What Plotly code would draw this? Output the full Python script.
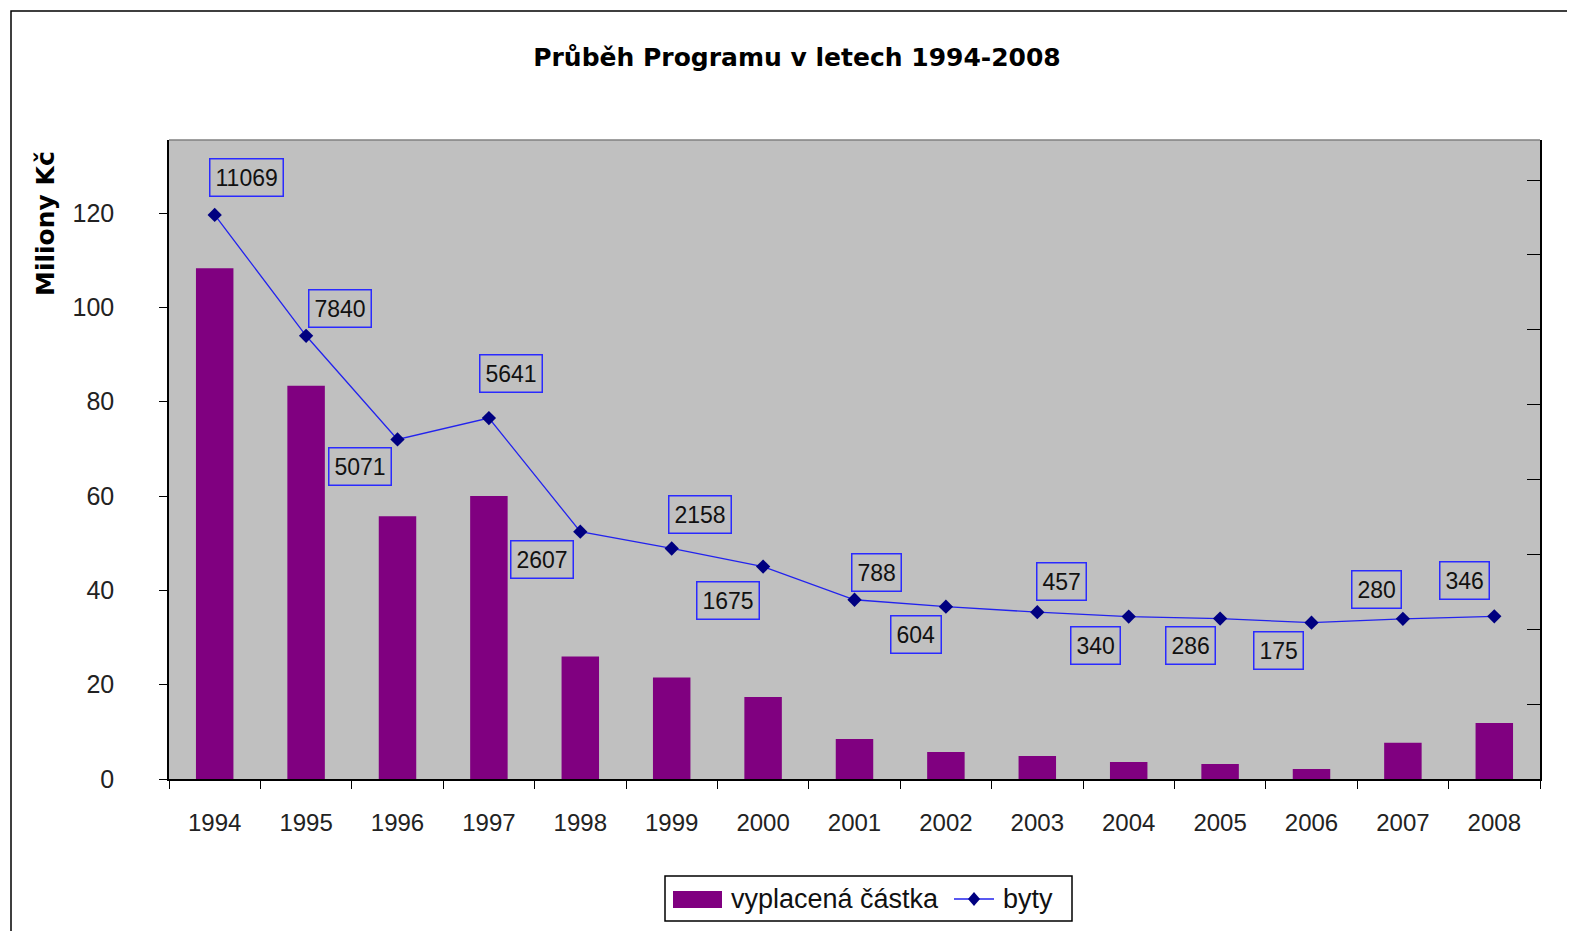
import plotly.graph_objects as go

years = ["1994", "1995", "1996", "1997", "1998", "1999", "2000", "2001",
         "2002", "2003", "2004", "2005", "2006", "2007", "2008"]
vyplacena_castka = [108.3, 83.4, 55.7, 60.0, 26.0, 21.5, 17.4, 8.5,
                    5.7, 4.9, 3.6, 3.2, 2.1, 7.7, 11.9]
byty = [11069, 7840, 5071, 5641, 2607, 2158, 1675, 788,
        604, 457, 340, 286, 175, 280, 346]
series_names = ["vyplacená částka", "byty"]

# label offsets in pixels (dx, dy) relative to each point
label_dx = [32, 34, -38, 22, -38, 28, -35, 22, -30, 24, -33, -30, -33, -26, -30]
label_dy = [37, 27, -27, 45, -28, 34, -34, 27, -28, 31, -29, -27, -28, 29, 36]

FONT = "Liberation Sans, Arial, sans-serif"
BOLD = "DejaVu Sans, sans-serif"
BAR_COLOR = "#800080"
LINE_COLOR = "#2222ee"
MARKER_COLOR = "#000080"

# page body has an 8px margin; figure laid out in its own coordinates
W, H = 1567, 923
OFF = 8
PL, PR, PT, PB = 169 - OFF, 1540 - OFF, 140 - OFF, 779 - OFF


def px(X):  # screen x -> paper x
    return (X - 169) / 1371


def py(Y):  # screen y -> paper y
    return (779 - Y) / 639


fig = go.Figure()
fig.add_trace(go.Bar(
    x=years, y=vyplacena_castka, name=series_names[0],
    marker=dict(color=BAR_COLOR, line=dict(width=0)), width=0.41,
))
fig.add_trace(go.Scatter(
    x=years, y=byty, name=series_names[1], yaxis="y2", mode="lines+markers",
    line=dict(color=LINE_COLOR, width=1.3),
    marker=dict(symbol="diamond", size=11, color=MARKER_COLOR),
))

annotations = []
for i, (v, dx, dy) in enumerate(zip(byty, label_dx, label_dy)):
    annotations.append(dict(
        x=i, y=v, xref="x", yref="y2", text=str(v), showarrow=False,
        xshift=dx, yshift=dy, font=dict(family=FONT, size=23, color="#111"),
        bordercolor="#2a2aff", borderwidth=1.5, borderpad=5,
    ))
annotations.append(dict(
    text="<b>Miliony Kč</b>", textangle=-90, xref="paper", yref="paper",
    x=px(45), y=py(224), showarrow=False,
    font=dict(family=BOLD, size=25, color="#000"), xanchor="center", yanchor="middle",
))
# legend texts
LEG_Y = 899
annotations.append(dict(
    text=series_names[0], xref="paper", yref="paper", x=px(729), y=py(LEG_Y),
    xanchor="left", yanchor="middle", showarrow=False,
    font=dict(family=FONT, size=27, color="#111"),
))
annotations.append(dict(
    text=series_names[1], xref="paper", yref="paper", x=px(1001), y=py(LEG_Y),
    xanchor="left", yanchor="middle", showarrow=False,
    font=dict(family=FONT, size=27, color="#111"),
))

dmx, dmy = 6 / 1371, 7 / 639
cx, cy = px(974), py(LEG_Y)
diamond = (f"M {cx - dmx} {cy} L {cx} {cy + dmy} L {cx + dmx} {cy} "
           f"L {cx} {cy - dmy} Z")

shapes = [
    dict(type="line", xref="paper", yref="paper", x0=0, x1=1, y0=1, y1=1,
         line=dict(color="#808080", width=1.5)),
    dict(type="rect", xref="paper", yref="paper", x0=px(11),
         x1=2, y0=-1, y1=py(11), line=dict(color="#000", width=1.5),
         layer="below"),
    # legend box
    dict(type="rect", xref="paper", yref="paper", x0=px(665), x1=px(1072),
         y0=py(921), y1=py(876), line=dict(color="#000", width=1.5),
         fillcolor="white"),
    dict(type="rect", xref="paper", yref="paper", x0=px(673), x1=px(722),
         y0=py(908), y1=py(891), line=dict(width=0), fillcolor=BAR_COLOR),
    dict(type="line", xref="paper", yref="paper", x0=px(954), x1=px(994),
         y0=cy, y1=cy, line=dict(color=LINE_COLOR, width=1.3)),
    dict(type="path", xref="paper", yref="paper", path=diamond,
         fillcolor=MARKER_COLOR, line=dict(width=0)),
]

fig.update_layout(
    width=W, height=H,
    margin=dict(l=PL, r=W - PR, t=PT, b=H - PB, autoexpand=False),
    paper_bgcolor="white", plot_bgcolor="#C0C0C0",
    title=dict(text="<b>Průběh Programu v letech 1994-2008</b>", x=(797 - OFF) / W,
               xanchor="center", y=1 - (57 - OFF) / H, yanchor="middle",
               font=dict(family=BOLD, size=25, color="#000")),
    font=dict(family=FONT, size=24, color="#222"),
    xaxis=dict(type="category", range=[-0.5, 14.5], tickson="boundaries",
               ticks="outside", ticklen=8, tickangle=0, ticklabelstandoff=21,
               tickcolor="#000", showline=True, linecolor="#000", linewidth=1.5,
               showgrid=False, tickfont=dict(size=24, color="#222")),
    yaxis=dict(range=[0, 135.5], dtick=20, ticks="outside", ticklen=8,
               ticklabelstandoff=40,
               tickcolor="#000", showline=True, linecolor="#000", linewidth=1.5,
               showgrid=False, zeroline=False, tickfont=dict(size=25, color="#222")),
    yaxis2=dict(range=[-4000, 13070], tick0=-4000, dtick=2000, overlaying="y",
                side="right", ticks="inside", ticklen=13, tickcolor="#000",
                showticklabels=False, showline=True, linecolor="#000", linewidth=1.5,
                showgrid=False, zeroline=False),
    showlegend=False,
    annotations=annotations,
    shapes=shapes,
)

fig.write_html("out.html")
